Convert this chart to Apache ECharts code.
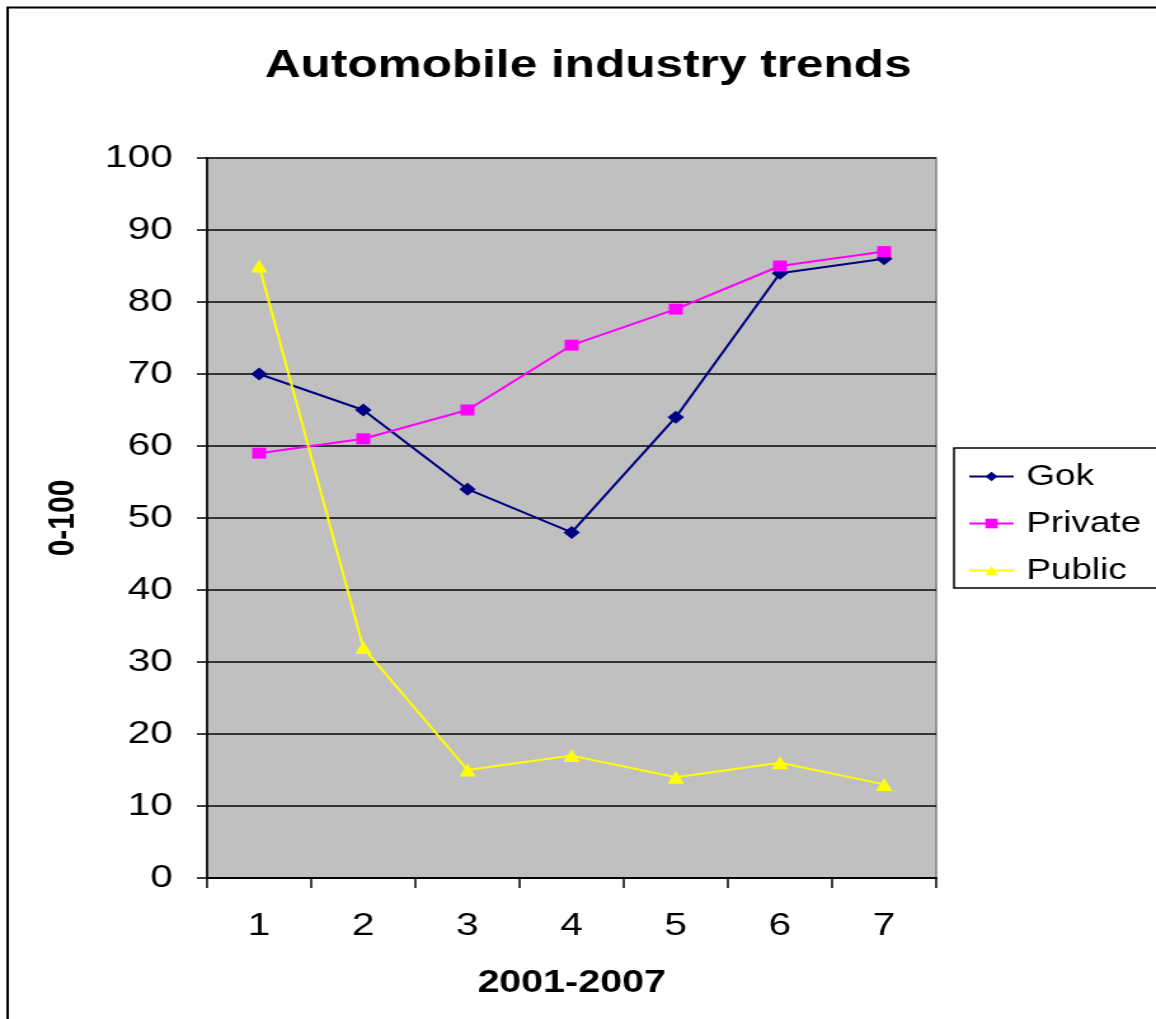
<!DOCTYPE html>
<html>
<head>
<meta charset="utf-8">
<script src="https://cdn.jsdelivr.net/npm/echarts@6/dist/echarts.min.js"></script>
<style>
  html, body { margin: 0; padding: 0; background: #fff; overflow: hidden; }
  /* the reference picture is stretched sideways, so the chart is drawn narrower and widened */
  #main { width: 910px; height: 1019px; transform: scaleX(1.2703); transform-origin: 0 0; }
</style>
</head>
<body>
<div id="main"></div>
<script>
// data
var years = ['1', '2', '3', '4', '5', '6', '7'];
var gok = [70, 65, 54, 48, 64, 84, 86];
var privateVals = [59, 61, 65, 74, 79, 85, 87];
var publicVals = [85, 32, 15, 17, 14, 16, 13];

window.onload = function () {
  var chart = echarts.init(document.getElementById('main'));
  var font = 'Liberation Sans, Arial, sans-serif';

  var option = {
    backgroundColor: '#fff',
    animation: false,
    textStyle: { fontFamily: font },
    graphic: [{
      type: 'rect',
      shape: { x: 6, y: 7.5, width: 1000, height: 1100 },
      style: { fill: 'none', stroke: '#000', lineWidth: 2 },
      z: 0
    }],
    title: {
      text: 'Automobile industry trends',
      left: 458, top: 42, textAlign: 'center',
      textStyle: { fontSize: 39, fontWeight: 'bold', color: '#000', fontFamily: font }
    },
    legend: {
      orient: 'vertical',
      left: 751, top: 448,
      padding: [14, 80, 3, 11],
      itemGap: 18,
      itemWidth: 35, itemHeight: 12,
      borderColor: '#000', borderWidth: 1.5,
      backgroundColor: '#fff',
      textStyle: { fontSize: 29, color: '#000', fontFamily: font, padding: [0, 0, 0, 5] },
      data: ['Gok', 'Private', 'Public']
    },
    grid: { left: 163, right: 173, top: 158, bottom: 141, show: true, backgroundColor: '#C0C0C0', borderColor: '#808080', borderWidth: 1.5 },
    xAxis: {
      type: 'category',
      data: years,
      boundaryGap: true,
      name: '2001-2007',
      nameLocation: 'middle',
      nameGap: 90,
      nameTextStyle: { fontSize: 31, fontWeight: 'bold', color: '#000', fontFamily: font },
      axisLine: { lineStyle: { color: '#000', width: 2 } },
      axisTick: { show: true, length: 10, lineStyle: { color: '#000', width: 1.5 } },
      axisLabel: { fontSize: 32, color: '#000', margin: 32, fontFamily: font }
    },
    yAxis: {
      type: 'value',
      min: 0, max: 100, interval: 10,
      name: '0-100',
      nameLocation: 'middle',
      nameRotate: 90,
      nameGap: 98,
      nameTextStyle: { fontSize: 30, fontWeight: 'bold', color: '#000', fontFamily: font },
      axisLine: { show: true, lineStyle: { color: '#000', width: 1.6 } },
      axisTick: { show: true, length: 8, lineStyle: { color: '#000', width: 1.5 } },
      axisLabel: { fontSize: 32, color: '#000', margin: 27, fontFamily: font },
      splitLine: { lineStyle: { color: '#333', width: 2 } }
    },
    series: [
      {
        name: 'Gok', type: 'line', data: gok,
        symbol: 'diamond', symbolSize: 13,
        lineStyle: { color: '#000080', width: 2 },
        itemStyle: { color: '#000080' }
      },
      {
        name: 'Private', type: 'line', data: privateVals,
        symbol: 'rect', symbolSize: 11,
        lineStyle: { color: '#FF00FF', width: 2 },
        itemStyle: { color: '#FF00FF' }
      },
      {
        name: 'Public', type: 'line', data: publicVals,
        symbol: 'triangle', symbolSize: 13,
        lineStyle: { color: '#FFFF00', width: 2 },
        itemStyle: { color: '#FFFF00' }
      }
    ]
  };

  chart.setOption(option);
};
</script>
</body>
</html>
